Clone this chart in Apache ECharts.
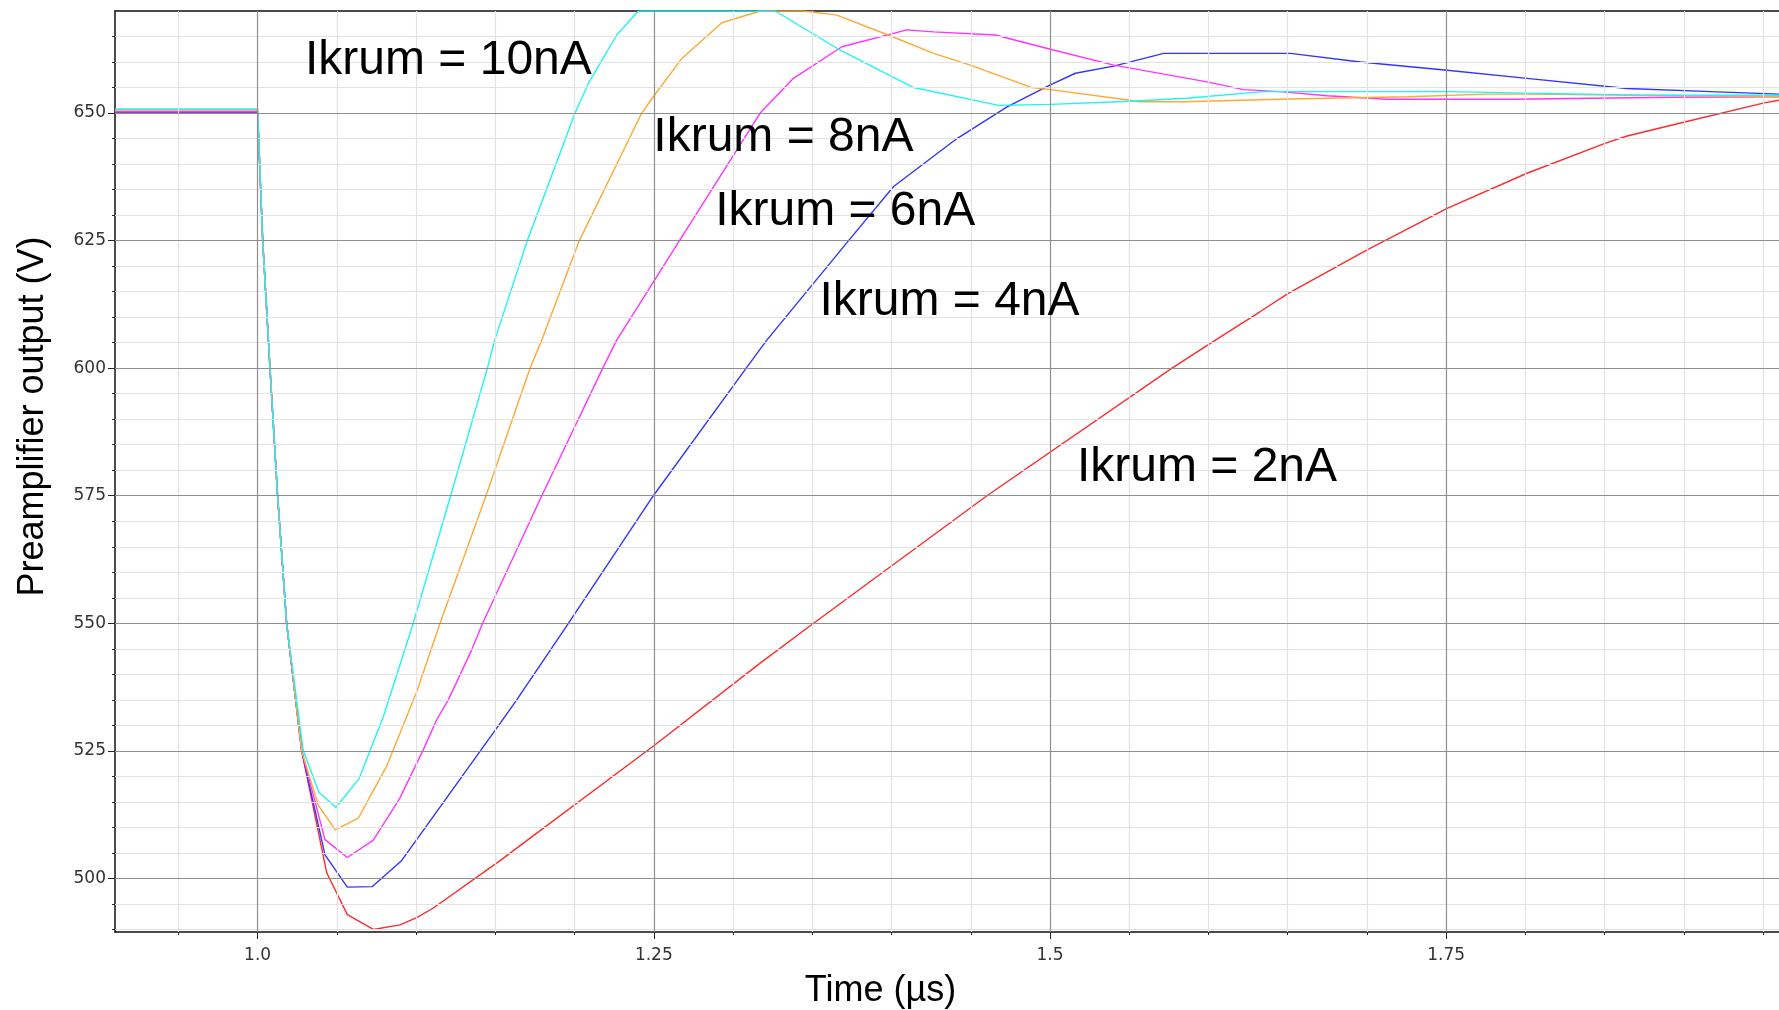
<!DOCTYPE html>
<html>
<head>
<meta charset="utf-8">
<script src="https://cdn.jsdelivr.net/npm/echarts@6/dist/echarts.min.js"></script>
<style>html,body{margin:0;padding:0;background:#fff;}#c{width:1779px;height:1010px;}</style>
</head>
<body>
<div id="c"></div>
<script>
// ---- data: [time (µs), output] ----
const ikrum2 = [[0.91,650],[1.0,650],[1.0032,625],[1.0078,600],[1.0126,575],[1.0183,550],[1.0278,525],[1.0436,501.1],[1.0566,492.9],[1.073,490.0],[1.0898,490.9],[1.1004,492.3],[1.1109,494.2],[1.153,503.5],[1.1719,507.9],[1.25,526],[1.3171,542.2],[1.3508,550],[1.4602,575],[1.577,600],[1.6044,605.5],[1.6327,611.1],[1.6506,614.7],[1.7001,623.2],[1.7506,631.3],[1.801,638.2],[1.8506,644.1],[1.8642,645.5],[1.9011,648.3],[1.9507,652],[1.96,652.5]];
const ikrum4 = [[0.91,650],[1.0,650],[1.0032,625],[1.0078,600],[1.0126,575],[1.0183,550],[1.0278,525],[1.0425,504.6],[1.0566,498.3],[1.0724,498.4],[1.0906,503.4],[1.153,530.4],[1.1635,535],[1.1961,550],[1.2497,575],[1.3083,600],[1.3213,605.5],[1.3729,625],[1.4013,635.6],[1.4413,645],[1.4729,651.2],[1.5002,655.5],[1.516,657.8],[1.5402,659.2],[1.5717,661.7],[1.6517,661.7],[1.6958,660],[1.7506,658.4],[1.801,656.8],[1.8642,654.8],[1.9169,654.2],[1.96,653.7]];
const ikrum6 = [[0.91,650.3],[1.0,650.3],[1.0032,625],[1.0078,600],[1.0126,575],[1.0183,550],[1.0278,525],[1.0425,507.6],[1.0566,504.1],[1.073,507.5],[1.0895,515.6],[1.1045,525.2],[1.113,531.1],[1.1203,535],[1.1351,544.8],[1.142,550],[1.1793,575],[1.2178,600],[1.2266,605.5],[1.2662,625],[1.3171,650],[1.3381,656.8],[1.3687,663],[1.4097,666.3],[1.4265,665.9],[1.4655,665.3],[1.5002,662.5],[1.5402,659.4],[1.5991,656.1],[1.6222,654.6],[1.6452,654.2],[1.6749,653.4],[1.7128,652.7],[1.7927,652.7],[1.8915,653.1],[1.96,653.2]];
const ikrum8 = [[0.91,650.6],[1.0,650.6],[1.0032,625],[1.0078,600],[1.0126,575],[1.0183,550],[1.0278,525],[1.0383,514.3],[1.049,509.5],[1.0635,511.8],[1.0814,522],[1.1004,536.6],[1.1151,550],[1.1441,575],[1.1719,600],[1.1793,605.5],[1.203,625],[1.2424,650],[1.2497,653.2],[1.2677,660.7],[1.2929,667.7],[1.3171,670],[1.3444,670],[1.3655,669.2],[1.4003,665],[1.4265,661.7],[1.4497,659.4],[1.4886,655.0],[1.5002,654.6],[1.5507,652.5],[1.5559,652.2],[1.5843,652.2],[1.6453,652.7],[1.6749,652.9],[1.7254,653.2],[1.7759,653.7],[1.801,653.7],[1.8747,653.5],[1.96,653.2]];
const ikrum10 = [[0.91,650.8],[1.0,650.8],[1.0032,625],[1.0078,600],[1.0126,575],[1.0183,550],[1.0288,525],[1.0387,516.9],[1.0494,513.9],[1.0639,519.5],[1.0793,531.7],[1.0982,550],[1.1218,575],[1.145,600],[1.1496,605.5],[1.1702,625],[1.2003,650],[1.2087,655.8],[1.2266,665.3],[1.2403,670],[1.28,670],[1.3266,670],[1.3666,662.5],[1.4139,655],[1.4676,651.5],[1.5002,651.7],[1.5507,652.3],[1.5865,652.9],[1.634,654.2],[1.7506,654.2],[1.801,653.9],[1.8747,653.5],[1.96,653.5]];

const seriesNames = ['Ikrum = 2nA','Ikrum = 4nA','Ikrum = 6nA','Ikrum = 8nA','Ikrum = 10nA'];
const seriesColors = ['#ff2b2b','#3434ff','#ff33ff','#ffa833','#1ef4f4'];

const xMajorTicks = [1.0,1.25,1.5,1.75];
const xMinorTicks = [0.95,1.0,1.05,1.1,1.15,1.2,1.25,1.3,1.35,1.4,1.45,1.5,1.55,1.6,1.65,1.7,1.75,1.8,1.85,1.9,1.95];
const xMinorGrid = [0.95,1.05,1.1,1.15,1.2,1.3,1.35,1.4,1.45,1.55,1.6,1.65,1.7,1.8,1.85,1.9,1.95];
const yMajorTicks = [500,525,550,575,600,625,650];
const yMinorTicks = [490,495,500,505,510,515,520,525,530,535,540,545,550,555,560,565,570,575,580,585,590,595,600,605,610,615,620,625,630,635,640,645,650,655,660,665];
const yMinorGrid = [490,495,505,510,515,520,530,535,540,545,555,560,565,570,580,585,590,595,605,610,615,620,630,635,640,645,655,660,665];

const annotations = [
  {text:'Ikrum = 10nA', t:1.0299, v:660.3},
  {text:'Ikrum = 8nA',  t:1.2497, v:645.2},
  {text:'Ikrum = 6nA',  t:1.2887, v:630.7},
  {text:'Ikrum = 4nA',  t:1.3545, v:613.0},
  {text:'Ikrum = 2nA',  t:1.5170, v:580.4}
];

const X_MIN = 0.91, X_MAX = 1.96, Y_MIN = 489.5, Y_MAX = 670;
// ---------------------------------------------------------------

const chart = echarts.init(document.getElementById('c'), null, {renderer:'canvas'});
const labelFont = {fontFamily:'DejaVu Sans', fontSize:17, color:'#333'};
const fmtX = v => (v === 1 ? '1.0' : String(v));

const gridSeries = {
  type:'line', data:[], z:1, silent:true,
  markLine:{
    silent:true, symbol:['none','none'], animation:false,
    label:{show:false}, emphasis:{disabled:true},
    data:[
      ...xMinorGrid.map(x => ({xAxis:x, lineStyle:{color:'#e3e3e3', width:1.2, type:'solid'}})),
      ...yMinorGrid.map(y => ({yAxis:y, lineStyle:{color:'#e3e3e3', width:1.2, type:'solid'}})),
      ...xMajorTicks.map(x => ({xAxis:x, lineStyle:{color:'#8f8f8f', width:1.2, type:'solid'}})),
      ...yMajorTicks.map(y => ({yAxis:y, lineStyle:{color:'#8f8f8f', width:1.2, type:'solid'}}))
    ]
  }
};

const dataSets = [ikrum2, ikrum4, ikrum6, ikrum8, ikrum10];
const lineSeries = dataSets.map((d, i) => ({
  name: seriesNames[i], type:'line', data:d, showSymbol:false, symbol:'none',
  clip:true, z:3, lineStyle:{color:seriesColors[i], width:1.4},
  itemStyle:{color:seriesColors[i]}, emphasis:{disabled:true}
}));

const option = {
  animation:false,
  backgroundColor:'#fff',
  grid:{left:115, top:11, right:0, bottom:78, containLabel:false, outerBoundsMode:'none'},
  xAxis:[
    {type:'value', min:X_MIN, max:X_MAX, position:'bottom',
     name:'Time (µs)', nameLocation:'middle', nameGap:41,
     nameTextStyle:{fontFamily:'Liberation Sans', fontSize:36, color:'#000', padding:[0,133,0,0]},
     axisLine:{show:true, onZero:false, lineStyle:{color:'#111', width:1.5}},
     axisTick:{show:true, customValues:xMajorTicks, length:7, lineStyle:{color:'#222', width:1}},
     axisLabel:{show:true, customValues:xMajorTicks, formatter:fmtX, margin:15, ...labelFont},
     splitLine:{show:false}, minorTick:{show:false}},
    {type:'value', min:X_MIN, max:X_MAX, position:'bottom',
     axisLine:{show:false},
     axisTick:{show:true, customValues:xMinorTicks, length:3, lineStyle:{color:'#222', width:1}},
     axisLabel:{show:false}, splitLine:{show:false}},
    {type:'value', min:X_MIN, max:X_MAX, position:'top',
     axisLine:{show:true, onZero:false, lineStyle:{color:'#111', width:1.5}},
     axisTick:{show:false}, axisLabel:{show:false}, splitLine:{show:false}}
  ],
  yAxis:[
    {type:'value', min:Y_MIN, max:Y_MAX, position:'left',
     name:'Preamplifier output (V)', nameLocation:'middle', nameGap:64,
     nameTextStyle:{fontFamily:'Liberation Sans', fontSize:36, color:'#000', padding:[0,0,0,110]},
     axisLine:{show:true, onZero:false, lineStyle:{color:'#111', width:1.5}},
     axisTick:{show:true, customValues:yMajorTicks, length:7, lineStyle:{color:'#222', width:1}},
     axisLabel:{show:true, customValues:yMajorTicks, margin:9, ...labelFont},
     splitLine:{show:false}},
    {type:'value', min:Y_MIN, max:Y_MAX, position:'left',
     axisLine:{show:false},
     axisTick:{show:true, customValues:yMinorTicks, length:3, lineStyle:{color:'#222', width:1}},
     axisLabel:{show:false}, splitLine:{show:false}}
  ],
  series:[gridSeries, ...lineSeries]
};
chart.setOption(option);

const graphics = annotations.map(a => {
  const p = chart.convertToPixel({xAxisIndex:0, yAxisIndex:0}, [a.t, a.v]);
  return {type:'text', x:p[0], y:p[1], z:10, silent:true,
    style:{text:a.text, fontFamily:'Liberation Sans', fontSize:48, fill:'#000', align:'left', verticalAlign:'middle'}};
});
chart.setOption({graphic:graphics});
</script>
</body>
</html>
